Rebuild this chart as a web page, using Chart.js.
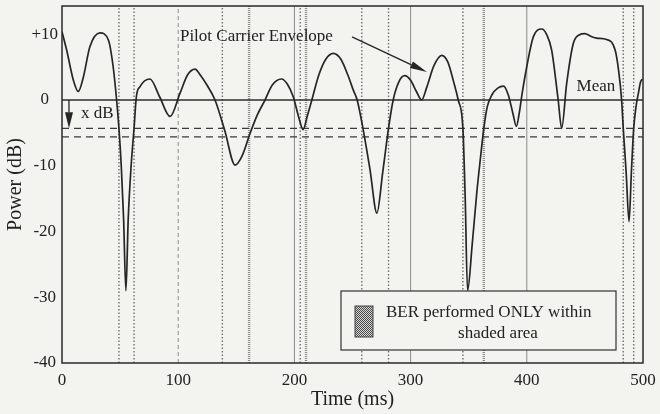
<!DOCTYPE html>
<html><head><meta charset="utf-8">
<script src="https://cdn.jsdelivr.net/npm/chart.js@4/dist/chart.umd.min.js"></script>
<style>html,body{margin:0;padding:0;background:#f3f3f0;}canvas{display:block;}</style>
</head><body>
<canvas id="c" width="660" height="414"></canvas>
<script>
// ---- data ----
const timeMs = [0,4,9.8,14,18.4,24,32.7,40,44,47,49,51,53,55,57,59.5,62,64,67,75.7,84,93,101.5,108,114.5,119,125,131.7,140,149,155,161.8,168,174.7,181,189,194,199,204,207.5,211,215,221,227,233.5,240,246,250.7,254,259,265,271,276,281,285,290,295,300,305,309.5,314,320,326.8,332,337,341,345,347,349,353,357,360,363,366,370,375,380,384,388,391,393.5,396,400,405.6,412.8,417,421.4,427,430,434.3,440,445,450,455,460,468.7,476,479,481.6,483,485.5,488,490,492,494,496,498,500];
const powerDb = [10.4,7.6,3.0,1.3,3.5,8.1,10.2,9.1,5.1,0,-4.3,-10,-18,-29,-18,-10,-4.3,0.5,2,3.2,0.5,-2.5,1,3.8,4.7,3.8,2.2,0,-4.6,-9.9,-8.5,-5.1,-2.3,0,2.3,3.2,2.4,0.5,-2.8,-4.5,-2.5,0,3.8,6.2,7.1,6.2,3.8,1.5,0,-4.3,-10.5,-17.2,-11,-4.3,0,2.8,3.7,3,1.3,0,2,5.2,6.8,5.8,2.8,0,-4.3,-15,-29,-22,-14,-9,-4.3,-1,0.8,1.8,2.1,0.8,-2,-4.0,-2,1,5.1,9.6,10.8,10,7.6,0,-4.3,2.5,8.6,9.9,10.1,9.7,9.4,9.2,7.6,4.5,0,-4.3,-11,-18.5,-11,-4.3,-1,1,2.8,3.2];
const meanDb = 0;
const thresholdDb = [-4.3, -5.6];
const gridTimes = [100, 200, 300, 400];
const fadeMarkerTimes = [49, 62, 138, 205, 258, 281, 345, 483, 492];
const shadedMarkerTimes = [161, 210, 363];
const xTicks = [0, 100, 200, 300, 400, 500];
const yTicks = [-40, -30, -20, -10, 0, 10];

const X_MIN = 0, X_MAX = 500, Y_MIN = -40, Y_MAX = 14.3;
const FONT = '"Liberation Serif", "Times New Roman", serif';
const BG = '#f3f3f0';
const INK = '#262626';

function vline(t, color, width, dash, order) {
  return { data: [{x: t, y: Y_MIN}, {x: t, y: Y_MAX}], borderColor: color, borderWidth: width,
           borderDash: dash, pointRadius: 0, tension: 0, order: order };
}
function hline(v, color, width, dash, order) {
  return { data: [{x: X_MIN, y: v}, {x: X_MAX, y: v}], borderColor: color, borderWidth: width,
           borderDash: dash, pointRadius: 0, tension: 0, order: order };
}

const datasets = [];
datasets.push({
  label: 'Pilot Carrier Envelope',
  data: timeMs.map((t, i) => ({x: t, y: powerDb[i]})),
  borderColor: INK, borderWidth: 1.7, pointRadius: 0,
  cubicInterpolationMode: 'monotone', order: 0
});
datasets.push(hline(meanDb, '#2e2e2e', 1.3, [], 1));
thresholdDb.forEach(v => datasets.push(hline(v, '#3a3a3a', 1.3, [7, 5], 2)));
gridTimes.forEach(t => datasets.push(vline(t, '#8a8a8a', 1, t === 100 ? [4, 3] : [], 3)));
fadeMarkerTimes.forEach(t => datasets.push(vline(t, '#6f6f6f', 1.4, [1.5, 2], 4)));
shadedMarkerTimes.forEach(t => datasets.push(vline(t, '#8a8a8a', 2.4, [1, 1], 4)));

function arrow(ctx, x1, y1, x2, y2, headLen, headHalf) {
  const ang = Math.atan2(y2 - y1, x2 - x1);
  const bx = x2 - headLen * Math.cos(ang), by = y2 - headLen * Math.sin(ang);
  ctx.beginPath(); ctx.moveTo(x1, y1); ctx.lineTo(bx, by); ctx.stroke();
  ctx.beginPath();
  ctx.moveTo(x2, y2);
  ctx.lineTo(bx + headHalf * Math.sin(ang), by - headHalf * Math.cos(ang));
  ctx.lineTo(bx - headHalf * Math.sin(ang), by + headHalf * Math.cos(ang));
  ctx.closePath(); ctx.fill();
}

const decor = {
  id: 'decor',
  beforeDraw(chart) {
    const ctx = chart.ctx;
    ctx.save(); ctx.fillStyle = BG; ctx.fillRect(0, 0, chart.width, chart.height); ctx.restore();
  },
  afterDatasetsDraw(chart) {
    const ctx = chart.ctx, ca = chart.chartArea;
    const xs = chart.scales.x, ys = chart.scales.y;
    ctx.save();
    // frame
    ctx.strokeStyle = '#2a2a2a'; ctx.lineWidth = 1.5;
    ctx.strokeRect(ca.left, ca.top, ca.right - ca.left, ca.bottom - ca.top);
    // x dB arrow
    ctx.strokeStyle = INK; ctx.fillStyle = INK; ctx.lineWidth = 1.3;
    arrow(ctx, xs.getPixelForValue(6), ys.getPixelForValue(meanDb),
               xs.getPixelForValue(6), ys.getPixelForValue(thresholdDb[0]), 16, 4);
    // pilot arrow
    arrow(ctx, xs.getPixelForValue(249.6), ys.getPixelForValue(9.6),
               xs.getPixelForValue(314), ys.getPixelForValue(4.26), 17, 3.5);
    // texts
    ctx.fillStyle = '#222';
    ctx.font = '17px ' + FONT;
    ctx.textBaseline = 'middle';
    ctx.textAlign = 'left';
    ctx.fillText('Pilot Carrier Envelope', xs.getPixelForValue(101.5), ys.getPixelForValue(9.6));
    ctx.fillText('x dB', xs.getPixelForValue(16.4), ys.getPixelForValue(-2.0));
    ctx.textAlign = 'center';
    ctx.fillText('Mean', xs.getPixelForValue(459.5), ys.getPixelForValue(2.1));
    // legend box
    const bx = ca.left + 279, by = ca.top + 285, bw = 275, bh = 59;
    ctx.fillStyle = BG; ctx.fillRect(bx, by, bw, bh);
    ctx.strokeStyle = '#333'; ctx.lineWidth = 1.2; ctx.strokeRect(bx, by, bw, bh);
    const pc = document.createElement('canvas'); pc.width = 2; pc.height = 2;
    const pctx = pc.getContext('2d');
    pctx.fillStyle = '#d8d8d8'; pctx.fillRect(0, 0, 2, 2);
    pctx.fillStyle = '#4a4a4a'; pctx.fillRect(0, 0, 1, 1); pctx.fillRect(1, 1, 1, 1);
    ctx.fillStyle = ctx.createPattern(pc, 'repeat');
    ctx.fillRect(bx + 14, by + 15, 18, 31);
    ctx.strokeStyle = '#444'; ctx.lineWidth = 1; ctx.strokeRect(bx + 14, by + 15, 18, 31);
    ctx.fillStyle = '#222';
    ctx.textAlign = 'left';
    ctx.fillText('BER performed ONLY within', bx + 45, by + 22);
    ctx.textAlign = 'center';
    ctx.fillText('shaded area', bx + 157, by + 43);
    ctx.restore();
  }
};

new Chart(document.getElementById('c'), {
  type: 'line',
  data: { datasets: datasets },
  plugins: [decor],
  options: {
    responsive: false, animation: false, parsing: true,
    layout: { padding: { top: 6, right: 17, left: 0, bottom: 0 } },
    plugins: { legend: { display: false }, tooltip: { enabled: false } },
    elements: { point: { radius: 0 } },
    scales: {
      x: {
        type: 'linear', min: X_MIN, max: X_MAX,
        grid: { display: false, drawTicks: false }, border: { display: false },
        afterBuildTicks: s => { s.ticks = xTicks.map(v => ({ value: v })); },
        afterFit: s => { s.height = 51; s.paddingLeft = 0; s.paddingRight = 0; },
        ticks: { font: { family: FONT, size: 17 }, color: '#222', padding: 7, maxRotation: 0, autoSkip: false },
        title: { display: true, text: 'Time (ms)', font: { family: FONT, size: 20 }, color: '#222', padding: { top: 0, bottom: 2 } }
      },
      y: {
        type: 'linear', min: Y_MIN, max: Y_MAX,
        grid: { display: false, drawTicks: false }, border: { display: false },
        afterBuildTicks: s => { s.ticks = yTicks.map(v => ({ value: v })); },
        afterFit: s => { s.width = 62; s.paddingTop = 0; s.paddingBottom = 0; },
        ticks: { font: { family: FONT, size: 17 }, color: '#222', padding: 4, crossAlign: 'center',
                 callback: v => (v > 0 ? '+' + v : String(v)) },
        title: { display: true, text: 'Power (dB)', font: { family: FONT, size: 20 }, color: '#222', padding: { top: 4, bottom: 0 } }
      }
    }
  }
});
</script>
</body></html>
